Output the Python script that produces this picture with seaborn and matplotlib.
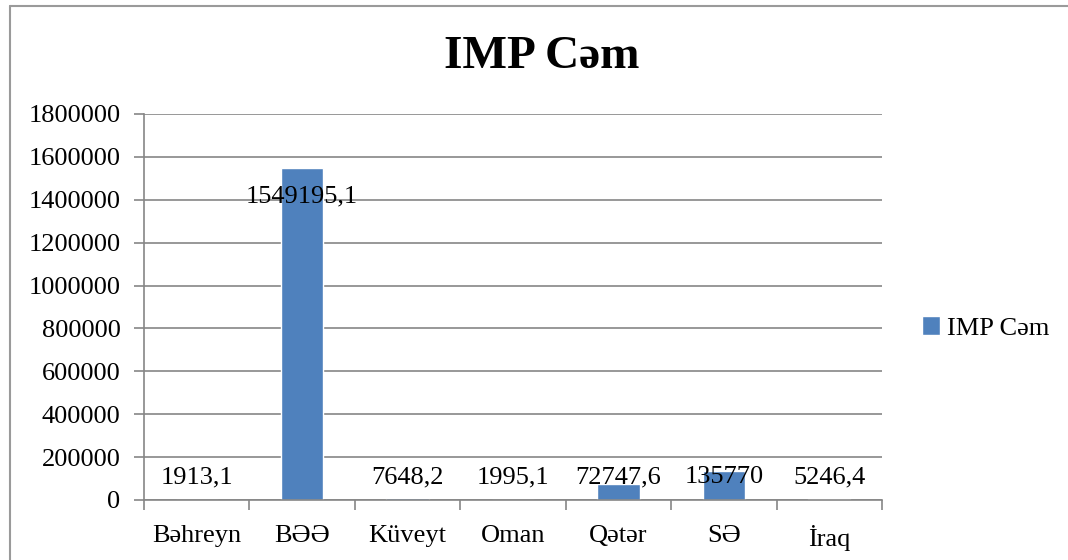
import matplotlib
matplotlib.use("Agg")
import matplotlib.pyplot as plt
from matplotlib.lines import Line2D
import seaborn as sns

# data
countries = ["Bəhreyn", "BƏƏ", "Küveyt", "Oman", "Qətər", "SƏ", "İraq"]
imp_cem = [1913.1, 1549195.1, 7648.2, 1995.1, 72747.6, 135770, 5246.4]
value_labels = ["1913,1", "1549195,1", "7648,2", "1995,1", "72747,6", "135770", "5246,4"]
yticks = [0, 200000, 400000, 600000, 800000, 1000000, 1200000, 1400000, 1600000, 1800000]

sns.set_style("white")
plt.rcParams["font.family"] = ["Liberation Serif", "DejaVu Serif"]
plt.rcParams["text.color"] = "black"
plt.rcParams["xtick.color"] = "black"
plt.rcParams["ytick.color"] = "black"

grey = "#868686"
blue = "#4F81BD"
fs = 19

fig = plt.figure(figsize=(10.68, 5.6), dpi=100)
ax = fig.add_axes([144 / 1068, 1 - 500 / 560, (882 - 144) / 1068, (500 - 114) / 560])

sns.barplot(x=countries, y=imp_cem, color=blue, width=0.4, saturation=1,
            label="IMP Cəm", ax=ax)

ax.set_ylim(0, 1800000)
ax.set_xlim(-0.5, len(countries) - 0.5)
ax.set_yticks(yticks)
ax.set_yticklabels([str(t) for t in yticks], fontsize=fs)
ax.tick_params(axis="y", left=True, length=7, color=grey, width=1.2, pad=10)
ax.tick_params(axis="x", which="major", length=0, labelsize=fs, pad=18)
ax.set_xticks([i - 0.5 for i in range(len(countries) + 1)], minor=True)
ax.tick_params(axis="x", which="minor", bottom=True, length=7, color=grey, width=1.2)
ax.grid(axis="y", color=grey, linewidth=1.2)
ax.set_axisbelow(True)
for s in ["top", "right"]:
    ax.spines[s].set_visible(False)
for s in ["left", "bottom"]:
    ax.spines[s].set_color(grey)
    ax.spines[s].set_linewidth(1.2)
ax.set_xlabel("")
ax.set_ylabel("")

# value labels
for i, (v, lab) in enumerate(zip(imp_cem, value_labels)):
    if v > 1000000:
        ax.annotate(lab, (i, v), xytext=(0, -21), textcoords="offset points",
                    ha="center", va="center", fontsize=fs)
    else:
        ax.annotate(lab, (i, 0), xytext=(0, 16.5), textcoords="offset points",
                    ha="center", va="center", fontsize=fs)

if ax.legend_:
    ax.legend_.remove()
h, l = ax.get_legend_handles_labels()
fig.legend(h, l, loc="center left", bbox_to_anchor=(898 / 1068, 1 - 328 / 560),
           frameon=False, fontsize=fs, handlelength=0.7, handleheight=0.7,
           handletextpad=0.25)

fig.suptitle("IMP Cəm", x=541.5 / 1068, y=1 - 57 / 560, va="center",
             fontsize=34, fontweight="bold", color="black")

# chart border
fig.add_artist(Line2D([10 / 1068, 10 / 1068], [0, 1 - 6 / 560], color="#9a9a9a",
                      linewidth=1.5, transform=fig.transFigure))
fig.add_artist(Line2D([10 / 1068, 1], [1 - 6 / 560, 1 - 6 / 560], color="#9a9a9a",
                      linewidth=1.5, transform=fig.transFigure))

fig.savefig("out.png", dpi=100)
